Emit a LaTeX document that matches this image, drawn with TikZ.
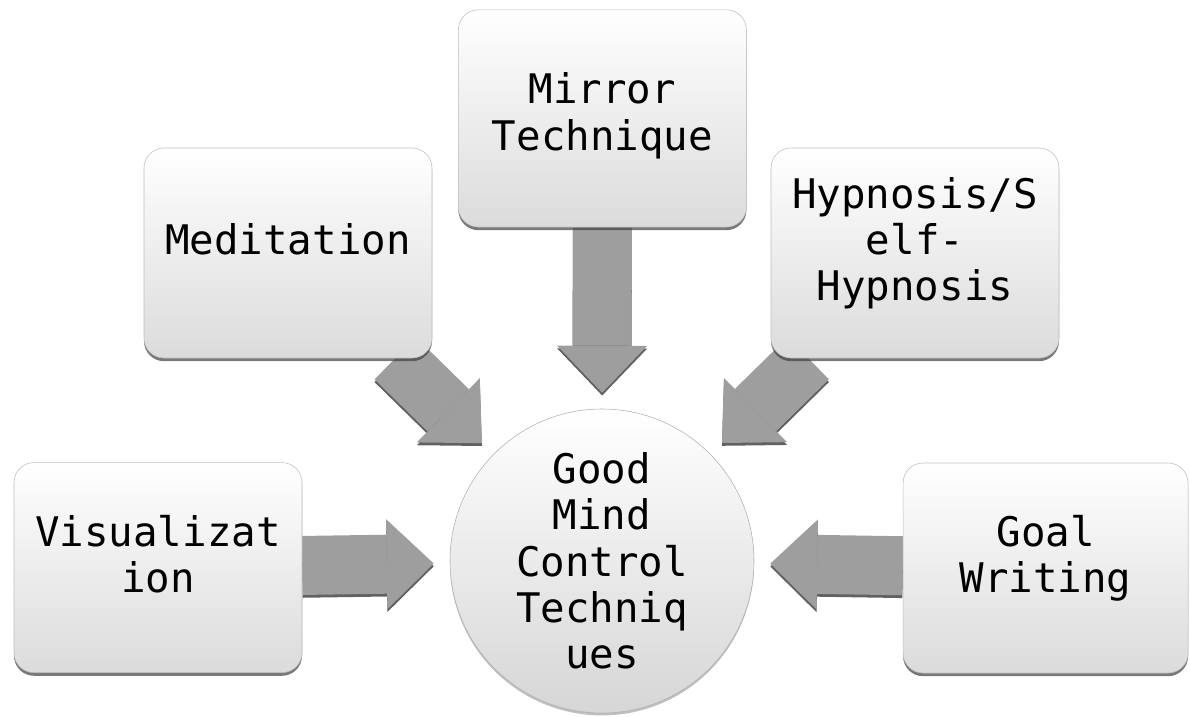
\documentclass[tikz,border=0pt]{standalone}
\usepackage{fontspec}
\setmonofont{DejaVu Sans Mono}
\usetikzlibrary{arrows.meta,shadows,backgrounds}

\begin{document}
\begin{tikzpicture}[
  idea/.style={draw=black!25, rounded corners=0.5cm, top color=white, bottom color=black!14,
    minimum width=7.2cm, minimum height=5.25cm, inner sep=0pt, align=center,
    text depth=0.7cm, font=\ttfamily\fontsize{29}{33}\selectfont,
    drop shadow={shadow xshift=0pt, shadow yshift=-0.08cm, fill=black!75, opacity=0.7}},
  hub/.style={circle, draw=black!30, top color=white, bottom color=black!16,
    minimum size=7.6cm, inner sep=0pt, align=center,
    font=\ttfamily\fontsize{29}{33}\selectfont,
    drop shadow={shadow xshift=0pt, shadow yshift=-0.06cm, fill=black!50, opacity=0.5}},
  flow/.style={line width=1.475cm, draw=black!38, shorten >=0.4cm,
    -{Triangle[length=1.175cm, width=2.25cm, line width=0pt]}},
  flowshade/.style={flow, draw=black!62, transform canvas={yshift=-0.07cm}}
]
\useasboundingbox (0,0) rectangle (29.75,-17.925);

% centre and the five techniques
\node[hub] (circ) at (15.05,-14.025) {Good\\Mind\\Control\\Techniq\\ues};
\node[idea] (vis) at (3.95,-14.19) {Visualizat\\ion};
\node[idea] (med) at (7.2,-6.325) {Meditation};
\node[idea, minimum height=5.43cm, text depth=0.35cm] (mir) at (15.06,-2.96) {Mirror\\Technique};
\node[idea] (hyp) at (22.875,-6.325) {Hypnosis/S\\elf-\\Hypnosis};
\node[idea, minimum width=7.125cm] (goal) at (26.14,-14.2) {Goal\\Writing};

% block arrows into the centre
\begin{scope}[on background layer]
\foreach \src in {vis,med,mir,hyp,goal}{
  \draw[flowshade] (\src) -- (circ);
  \draw[flow] (\src) -- (circ);
}
\end{scope}
\end{tikzpicture}
\end{document}
